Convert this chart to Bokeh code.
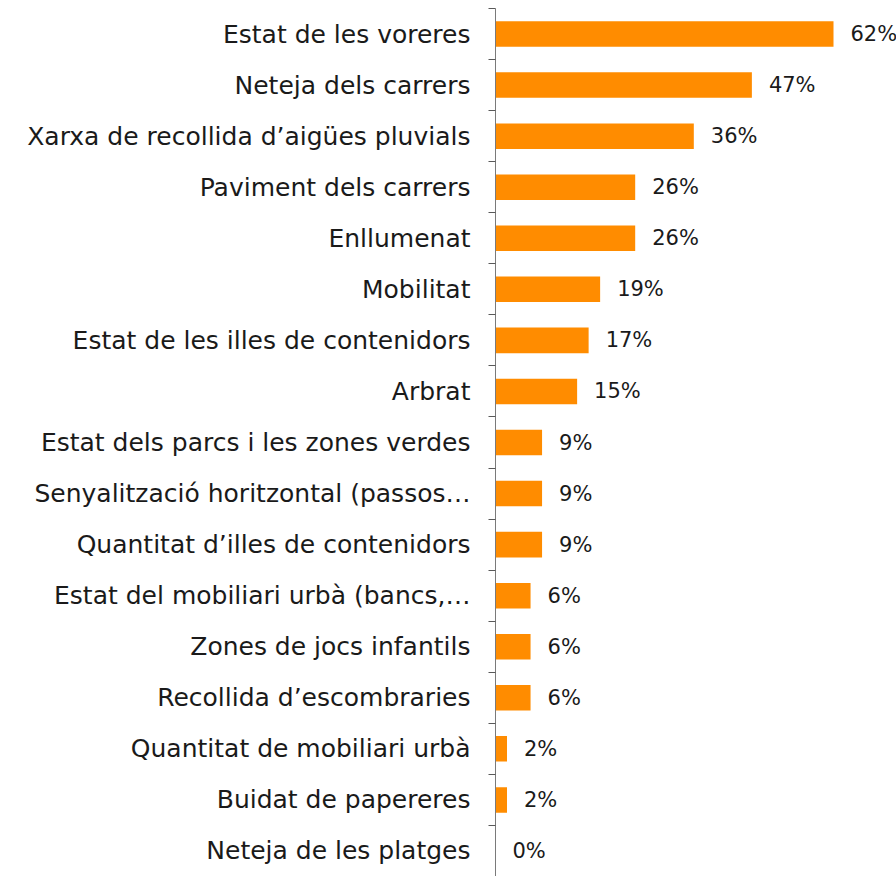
from bokeh.plotting import figure
from bokeh.models import ColumnDataSource, Range1d, FixedTicker
from bokeh.core.properties import value
from bokeh.embed import file_html
from bokeh.resources import INLINE

categories = [
    "Estat de les voreres",
    "Neteja dels carrers",
    "Xarxa de recollida d\u2019aig\u00fces pluvials",
    "Paviment dels carrers",
    "Enllumenat",
    "Mobilitat",
    "Estat de les illes de contenidors",
    "Arbrat",
    "Estat dels parcs i les zones verdes",
    "Senyalitzaci\u00f3 horitzontal (passos\u2026",
    "Quantitat d\u2019illes de contenidors",
    "Estat del mobiliari urb\u00e0 (bancs,\u2026",
    "Zones de jocs infantils",
    "Recollida d\u2019escombraries",
    "Quantitat de mobiliari urb\u00e0",
    "Buidat de papereres",
    "Neteja de les platges",
]
values = [61.7, 46.8, 36.2, 25.5, 25.5, 19.1, 17.0, 14.9, 8.5, 8.5, 8.5, 6.4, 6.4, 6.4, 2.1, 2.1, 0.0]
value_labels = ["62%", "47%", "36%", "26%", "26%", "19%", "17%", "15%", "9%", "9%", "9%",
                "6%", "6%", "6%", "2%", "2%", "0%"]

FONT = "DejaVu Sans"
TEXT_COLOR = "#1a1a1a"
BAR_COLOR = "#FF8C00"

n = len(categories)
pos = list(range(n))
src = ColumnDataSource(dict(y=pos, v=values, lab=value_labels))

p = figure(frame_width=401, frame_height=868,
           x_range=Range1d(0, 73.2), y_range=Range1d(n - 0.5, -0.5),
           output_backend="svg", toolbar_location=None,
           x_axis_location=None, min_border_left=495, min_border_right=0,
           min_border_top=8, min_border_bottom=0)
p.outline_line_color = None
p.xgrid.visible = False
p.ygrid.visible = False
p.background_fill_color = "white"
p.border_fill_color = "white"

p.hbar(y="y", left=0, right="v", height=0.5, source=src,
       fill_color=BAR_COLOR, line_color=None)
p.text(x="v", y="y", text="lab", source=src, x_offset=17,
       text_align="left", text_baseline="middle",
       text_font=value(FONT), text_font_size="21px", text_color=TEXT_COLOR)

ax = p.yaxis[0]
ax.ticker = FixedTicker(ticks=pos, minor_ticks=[i - 0.5 for i in range(n + 1)])
ax.major_label_overrides = {i: c for i, c in enumerate(categories)}
ax.major_tick_in = 0
ax.major_tick_out = 0
ax.minor_tick_in = 0
ax.minor_tick_out = 7
ax.minor_tick_line_color = "#595959"
ax.axis_line_color = "#7a7a7a"
ax.major_label_standoff = 18
ax.major_label_text_font = FONT
ax.major_label_text_font_size = "25px"
ax.major_label_text_color = TEXT_COLOR

open("out.html", "w").write(file_html(p, INLINE))
